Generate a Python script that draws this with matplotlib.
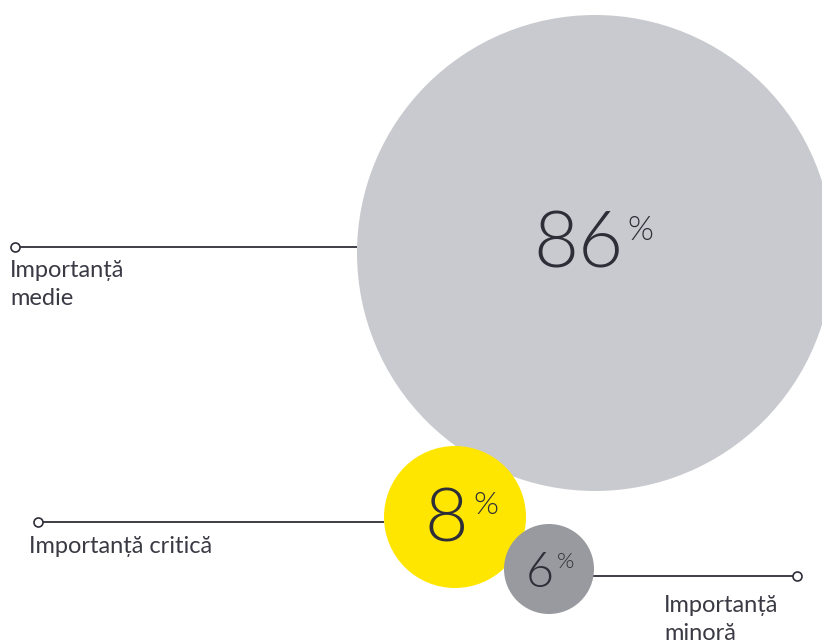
import matplotlib
matplotlib.use("Agg")
import matplotlib.pyplot as plt
from matplotlib.patches import Circle

# ---- data ----
categories = ["Importanță medie", "Importanță critică", "Importanță minoră"]
label_lines = [["Importanță", "medie"], ["Importanță critică"], ["Importanță", "minoră"]]
values = [86, 8, 6]

# ---- layout / style (pixels, y downward) ----
centers = [(595, 253), (455, 517), (549, 569)]
radii = [238, 71, 45]
colors = ["#C9CACF", "#FFE600", "#999A9F"]
num_sizes = [56, 54, 35]
pct_sizes = [24, 23, 16]
num_right = [623, 468, 554]      # right edge of the number
num_base = [267, 542, 587]        # baseline of number
pct_left = [627, 473, 557]
pct_top = [216, 491, 552]
# leader lines: (x_dot, x_end, y)
leaders = [(15, 357, 247), (38, 384, 522), (797, 593, 576)]
# label positions: (x, y_top of first line)
label_pos = [(10, 260), (29, 536), (664, 595)]
TXT = "#2E2E38"
FONT = ["Lato", "DejaVu Sans"]

W, H = 822, 644
fig = plt.figure(figsize=(W / 100, H / 100), dpi=100)
ax = fig.add_axes([0, 0, 1, 1])
ax.set_xlim(0, W)
ax.set_ylim(H, 0)
ax.set_aspect("equal")
ax.axis("off")

# leader lines drawn under circles
for (xd, xe, y) in leaders:
    ax.plot([xd, xe], [y, y], color="#2E2E38", lw=1.3, zorder=1, solid_capstyle="butt")
    ax.plot([xd], [y], marker="o", ms=6.5, mfc="white", mec="#2E2E38", mew=1.2, zorder=2)

for i, v in enumerate(values):
    c = Circle(centers[i], radii[i], facecolor=colors[i], edgecolor="none", zorder=3)
    ax.add_patch(c)
    ax.text(num_right[i], num_base[i], f"{v}", ha="right", va="baseline",
            fontsize=num_sizes[i], color=TXT, family=FONT, fontweight=300, zorder=5)
    ax.text(pct_left[i], pct_top[i], "%", ha="left", va="top",
            fontsize=pct_sizes[i], color=TXT, family=FONT, fontweight=300, zorder=5)

for i, lines in enumerate(label_lines):
    x, y = label_pos[i]
    ax.text(x, y, "\n".join(lines), ha="left", va="top", fontsize=17,
            color="#3a3a44", family=FONT, linespacing=1.4, zorder=5)

fig.savefig("out.png", dpi=100)
